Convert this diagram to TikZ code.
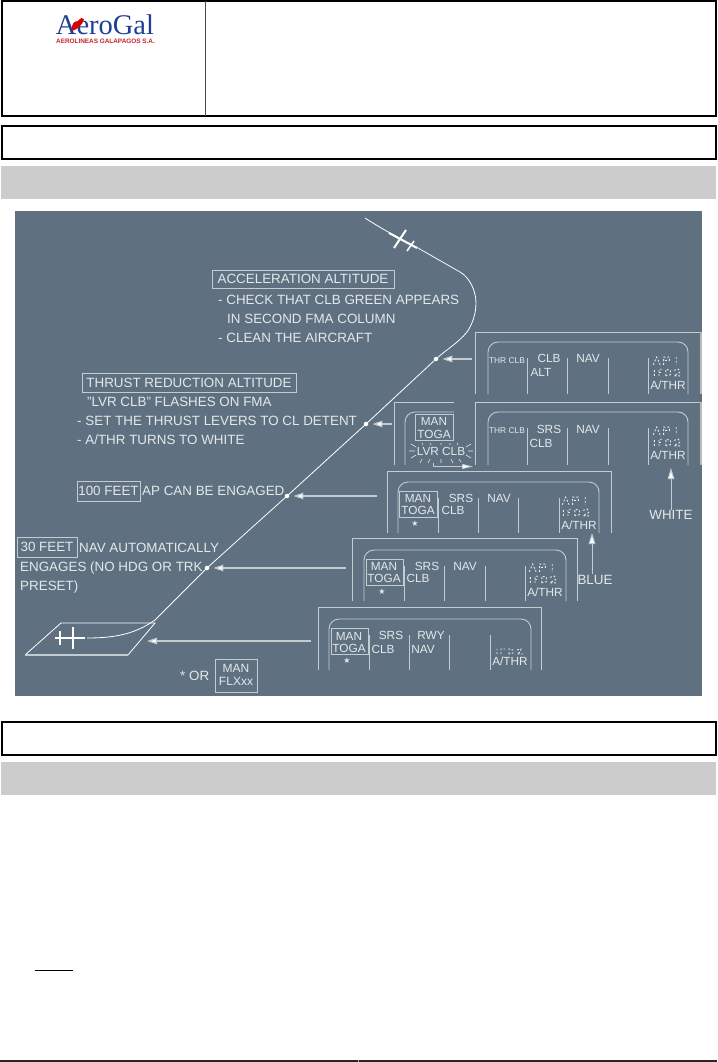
\documentclass[tikz,border=0pt]{standalone}
\usepackage{fontspec}
\setmainfont{Liberation Sans}
\newfontfamily\logoserif{Liberation Serif}
\newfontfamily\symfont{DejaVu Sans}
\usetikzlibrary{arrows.meta}
\definecolor{panelbg}{HTML}{5F7180}
\definecolor{panelline}{HTML}{C4CCD2}
\definecolor{paneltext}{HTML}{E4E8EB}
\definecolor{bandgray}{HTML}{CCCCCC}
\definecolor{logoblue}{HTML}{1F3F96}
\definecolor{logored}{HTML}{C8232C}
\tikzset{
  hframe/.style={draw=black,line width=2pt,fill=white},
  band/.style={fill=bandgray},
  fline/.style={draw=panelline,line width=0.9pt},
  fpath/.style={draw=white,line width=0.8pt},
  lbl/.style={text=paneltext,inner sep=0pt,font=\fontsize{13.4}{15}\selectfont},
  lleft/.style={lbl,anchor=west},
  fma/.style={text=paneltext,inner sep=0pt,font=\fontsize{11.8}{13}\selectfont},
  tiny/.style={text=paneltext,inner sep=0pt,font=\fontsize{8.4}{10}\selectfont},
  flxt/.style={text=paneltext,inner sep=0pt,font=\fontsize{12}{13}\selectfont},
  stm/.style={text=paneltext,inner sep=0pt,font=\symfont\fontsize{8}{9}\selectfont},
  boxed/.style={draw=panelline,line width=0.8pt},
  ptr/.style={draw=panelline,line width=1.2pt,shorten >=4pt,-{Triangle[length=10pt,width=6.5pt,fill=white]}},
  wp/.style={circle,fill=white,inner sep=0pt,minimum size=4.5pt},
  flick/.style={draw=paneltext,line width=0.6pt},
  adots/.style={draw=paneltext,line width=0.9pt,dash pattern=on 2pt off 1.8pt},
  plane/.style={draw=white,line width=2pt}
}
% #1 left #2 top #3 right #4 bottom #5..#8 dividers
\newcommand{\fmaframe}[8]{%
  \draw[fline,rounded corners=10pt] (#1,#4)--(#1,#2)--(#3,#2)--(#3,#4);
  \foreach \dv in {#5,#6,#7,#8} {\draw[fline] (\dv,#2+16)--(\dv,#4);}
}
% #1 x centre, #2 y centre of the AP1 / 1FD2 flashing legends
\newcommand{\apfd}[2]{%
  \begin{scope}[shift={(#1,#2)},xscale=1.15,yscale=1.1]
    \draw[adots] (-12,-2)--(-9,-9)--(-6,-2) (-3,-2)--(-3,-9)--(2,-9)--(2,-6)--(-3,-6) (8,-9)--(8,-2);
    \draw[adots] (-11,8)--(-11,2) (-7,8)--(-7,2)--(-3,2) (-7,5)--(-4,5) (-1,8)--(-1,2)--(3,3)--(3,7)--(-1,8) (6,3)--(10,2)--(11,5)--(6,8)--(12,8);
  \end{scope}
}
\begin{document}
\begin{tikzpicture}[x=1pt,y=-1pt]
\useasboundingbox (0,0) rectangle (717,1062);
\fill[white] (0,0) rectangle (717,1062);
% header
\draw[hframe] (1.5,1) rectangle (716,116);
\draw[draw=black!70,line width=1.8pt] (205.5,1)--(205.5,116);
\draw[hframe] (1.5,126) rectangle (716,159);
\fill[band] (1,166) rectangle (716,199);
\node[inner sep=0pt,anchor=base,text=logoblue,font=\logoserif\fontsize{28.5}{28}\selectfont] (logo) at (105,35) {AeroGal};
\node[inner sep=0pt,anchor=base,text=logored,font=\bfseries\fontsize{6.4}{7}\selectfont] (logosub) at (105.5,44) {AEROLINEAS GALAPAGOS S.A.};
\fill[red!85!black] (72,31) .. controls (71,24) and (74,21) .. (78,21) .. controls (80,18) and (83,17) .. (84,19) .. controls (83,22) and (82,25) .. (79,27) .. controls (77,29) and (75,30) .. (72,31) -- cycle;
% lower frame
\draw[hframe] (1.5,722) rectangle (716,755);
\fill[band] (1,762) rectangle (716,795);
\draw[black,line width=1pt] (35,970.5)--(73,970.5);
\draw[black!85,line width=1.6pt] (0,1061)--(717,1061);
\draw[white!70!black,line width=1pt] (358.5,1060)--(358.5,1062);
% panel
\fill[panelbg] (15,211) rectangle (702,696);
\fill[gray!55] (700,332) rectangle (702,394);
\fill[gray!55] (700,402) rectangle (702,465);

% flight path
\draw[fpath] (365,218) .. controls (385,231) and (405,241) .. (418,248)
  -- (460,272)
  .. controls (469,277) and (476,290) .. (476,303)
  .. controls (476,314) and (472,325) .. (467,332)
  .. controls (458,343) and (447,349) .. (436,359)
  -- (366,424) -- (287,496) -- (207,568) -- (155,620)
  .. controls (135,634) and (115,638) .. (87,638);
% climbing aeroplane
\draw[plane] (389,233)--(417,248) (394,248)--(406,230);
\draw[plane,line width=1.6pt] (407,251)--(414,241);
% runway
\draw[fpath] (25,655)--(61,623)--(155,623)--(128,655);
\draw[draw=panelline,line width=1.3pt] (25,655)--(128,655);
\draw[plane] (55,638)--(85,638) (73,627)--(73,649) (60,631)--(60,645);

% way points
\node[wp] (wp1) at (436,359) {};
\node[wp] (wp2) at (366,424) {};
\node[wp] (wp3) at (287,496) {};
\node[wp] (wp4) at (207,568) {};
\coordinate (wp5) at (143,641);
\coordinate (t1) at (472,359);
\coordinate (t2) at (392,424);
\coordinate (t3) at (377,496);
\coordinate (t4) at (346,568);
\coordinate (t5) at (311,641);
\draw[ptr] (t1)--(wp1);
\draw[ptr] (t2)--(wp2);
\draw[ptr] (t3)--(wp3);
\draw[ptr] (t4)--(wp4);
\draw[ptr] (t5)--(wp5);

% left texts
\node[lbl,boxed,minimum width=182pt,minimum height=18pt] (acc) at (303,279) {ACCELERATION ALTITUDE};
\node[lleft] (acc1) at (218,300) {- CHECK THAT CLB GREEN APPEARS};
\node[lleft] (acc2) at (227,319) {IN SECOND FMA COLUMN};
\node[lleft] (acc3) at (218,338) {- CLEAN THE AIRCRAFT};
\node[lbl,boxed,minimum width=214pt,minimum height=19pt] (thr) at (189,382.5) {THRUST REDUCTION ALTITUDE};
\node[lleft] (thr1) at (87,402) {"LVR CLB" FLASHES ON FMA};
\node[lleft] (thr2) at (77,421) {- SET THE THRUST LEVERS TO CL DETENT};
\node[lleft] (thr3) at (77,440) {- A/THR TURNS TO WHITE};
\node[lbl,boxed,minimum width=63pt,minimum height=20pt] (ft100) at (108.5,491) {100 FEET};
\node[lleft] (ft100t) at (142,491) {AP CAN BE ENGAGED};
\node[lbl,boxed,minimum width=60pt,minimum height=20pt] (ft30) at (47,547) {30 FEET};
\node[lleft] (ft30a) at (79,548) {NAV AUTOMATICALLY};
\node[lleft] (ft30b) at (20,568) {ENGAGES (NO HDG OR TRK};
\node[lleft] (ft30c) at (20,587) {PRESET)};
\node[lleft] (orx) at (180,676) {* OR};
\node[boxed,minimum width=42pt,minimum height=33pt,inner sep=0pt] (flxbox) at (236,675.5) {};
\node[flxt] (flx1) at (236,668) {MAN};
\node[flxt] (flx2) at (236,681) {FLXxx};

% LVR CLB panel (behind)
\draw[fline] (394,465)--(394,402)--(454,402);
\draw[fline,rounded corners=10pt] (405,465)--(405,412)--(454,412);
\node[fma,boxed,minimum width=38pt,minimum height=26pt,align=center,fill=panelbg] (mt0) at (434,427) {};
\node[fma] (mt0a) at (434,421) {MAN};
\node[fma] (mt0b) at (434,434) {TOGA};
\node[fma] (lvr) at (441,451) {LVR CLB};
\draw[flick] (409,451)--(415,451) (411,444)--(416,447) (411,458)--(416,455)
  (468,451)--(473,451) (466,447)--(471,444) (466,455)--(471,458)
  (422,443)--(423,445) (430,443)--(431,445) (441,443)--(441,445) (450,443)--(450,445) (458,443)--(457,445)
  (422,459)--(420,463) (430,459)--(428,463) (441,459)--(441,463) (451,459)--(453,463) (459,459)--(461,462);

% panel 1
\fill[panelbg] (475,332) rectangle (700,394);
\draw[fline] (475,394)--(475,332)--(700,332);
\fmaframe{488}{342}{688}{394}{527}{567}{608}{648}
\node[tiny] (p1a) at (507,361) {THR CLB};
\node[fma] (p1b) at (549,358) {CLB};
\node[fma] (p1c) at (541,372) {ALT};
\node[fma] (p1d) at (588,358) {NAV};
\node[fma] (p1e) at (668,385) {A/THR};
\apfd{667}{367}
% panel 2
\fill[panelbg] (475,402) rectangle (700,465);
\draw[fline] (475,465)--(475,402)--(700,402);
\fmaframe{488}{412}{688}{465}{527}{567}{608}{648}
\node[tiny] (p2a) at (507,431) {THR CLB};
\node[fma] (p2b) at (549,429) {SRS};
\node[fma] (p2c) at (541,443) {CLB};
\node[fma] (p2d) at (588,429) {NAV};
\node[fma] (p2e) at (668,455) {A/THR};
\apfd{667}{437}
% LVR arrow
\coordinate (lvrs) at (433,463);
\coordinate (lvre) at (473,466.5);
\draw[fline,-{Triangle[length=11pt,width=5pt,fill=white]},line width=.8pt] (lvrs)|-(lvre);
% panel 3
\draw[fline] (387,533)--(387,471)--(611,471)--(611,533);
\fmaframe{398}{482}{599}{533}{438}{478}{518}{559}
\node[boxed,minimum width=38pt,minimum height=26pt] (p3box) at (418,504.5) {};
\node[fma] (p3m) at (418,498.5) {MAN};
\node[fma] (p3t) at (418,510.5) {TOGA};
\node[stm] (p3s) at (415,524) {★};
\node[fma] (p3a) at (461,498) {SRS};
\node[fma] (p3b) at (453,510) {CLB};
\node[fma] (p3c) at (499,498) {NAV};
\node[fma] (p3d) at (579,525) {A/THR};
\apfd{576}{507}
% panel 4
\draw[fline] (352,601)--(352,538)--(577,538)--(577,601);
\fmaframe{364}{550}{566}{601}{404}{444}{485}{525}
\node[boxed,minimum width=37pt,minimum height=26pt] (p4box) at (384.5,572.5) {};
\node[fma] (p4m) at (384,566.5) {MAN};
\node[fma] (p4t) at (384,578.5) {TOGA};
\node[stm] (p4s) at (382,592) {★};
\node[fma] (p4a) at (427,566) {SRS};
\node[fma] (p4b) at (418,578) {CLB};
\node[fma] (p4c) at (465,566) {NAV};
\node[fma] (p4d) at (545,592) {A/THR};
\apfd{543}{574}
% panel 5
\draw[fline] (318,670)--(318,607)--(541,607)--(541,670);
\fmaframe{329}{619}{531}{670}{369}{409}{449}{490}
\node[boxed,minimum width=37pt,minimum height=26pt] (p5box) at (349.5,641.5) {};
\node[fma] (p5m) at (349,636) {MAN};
\node[fma] (p5t) at (349,648) {TOGA};
\node[stm] (p5s) at (347,661) {★};
\node[fma] (p5a) at (391,635) {SRS};
\node[fma] (p5b) at (383,649) {CLB};
\node[fma] (p5c) at (431,635) {RWY};
\node[fma] (p5d) at (423,649) {NAV};
\node[fma] (p5e) at (510,661) {A/THR};
\draw[adots] (497,654)--(497,649) (501,654)--(501,649)--(505,649) (509,654)--(509,649)--(513,650)--(513,653)--(509,654) (517,650)--(521,649)--(520,652)--(517,654)--(523,654);
% WHITE / BLUE
\node[lbl] (white) at (671,515) {WHITE};
\node[lbl] (blue) at (595,580) {BLUE};
\draw[draw=panelline,line width=1pt,-{Triangle[length=11pt,width=6.5pt,fill=white]}] (white.north)--(671,468);
\draw[draw=panelline,line width=1pt,-{Triangle[length=11pt,width=6.5pt,fill=white]}] (592,574)--(592,533);
\end{tikzpicture}
\end{document}
